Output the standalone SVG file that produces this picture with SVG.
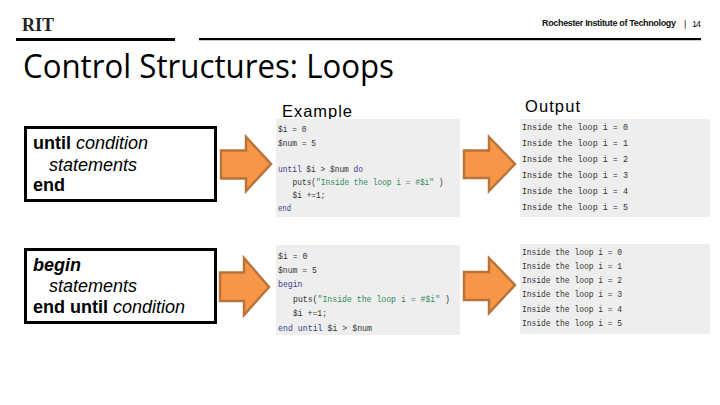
<svg xmlns="http://www.w3.org/2000/svg" width="720" height="405" viewBox="0 0 720 405">
<style>
.box{fill:#fff;stroke:#000;stroke-width:3}
.arrow{fill:#f79646;stroke:#b8743a;stroke-width:2.5}
.panel{fill:#eeeeee}
.t{font-family:"Liberation Sans",Arial,sans-serif;font-size:18px;fill:#000}
.b{font-weight:700}
.i{font-style:italic}
.c{font-family:"Liberation Mono","DejaVu Sans Mono",monospace;font-size:9.600px;fill:#333}
.g{fill:#2e8b57}
.p{fill:#3a3a8c}
</style>
<g id="header">
<text x="22" y="31" font-family="Liberation Serif,serif" font-weight="700" font-size="18" fill="#222" textLength="32">RIT</text>
<rect x="16" y="38" width="159" height="3" fill="#000"/>
<rect x="199" y="38" width="502" height="2.200" fill="#000"/>
<text x="542" y="26" font-family="Liberation Sans,sans-serif" font-weight="700" font-size="9" fill="#111" textLength="134">Rochester Institute of Technology</text>
<text x="684" y="27" font-family="Liberation Sans,sans-serif" font-size="9" fill="#111">|</text>
<text x="692" y="27" font-family="Liberation Sans,sans-serif" font-size="9" fill="#111" textLength="9">14</text>
</g>
<text id="title" x="23" y="78" font-family="'Open Sans',Lato,sans-serif" font-size="32" fill="#000" textLength="371" lengthAdjust="spacingAndGlyphs">Control Structures: Loops</text>
<text id="label-example" x="282" y="117" font-family="Liberation Sans,sans-serif" font-size="16.500" fill="#000" textLength="70">Example</text>
<text id="label-output" x="525" y="112" font-family="Liberation Sans,sans-serif" font-size="16.500" fill="#000" textLength="55">Output</text>
<g id="node-until">
<rect class="box" x="25.500" y="127.500" width="190" height="73"/>
<text class="t" x="33" y="149"><tspan class="b">until </tspan><tspan class="i">condition</tspan></text>
<text class="t i" x="49" y="170.500">statements</text>
<text class="t b" x="33" y="191">end</text>
</g>
<g id="node-begin">
<rect class="box" x="25.500" y="249.500" width="190" height="73"/>
<text class="t b i" x="33" y="270.500">begin</text>
<text class="t i" x="49" y="291.500">statements</text>
<text class="t" x="33" y="313"><tspan class="b">end until </tspan><tspan class="i">condition</tspan></text>
</g>
<g id="example-until">
<rect class="panel" x="276" y="119" width="184" height="98"/>
<text class="c" x="278" y="131.500" textLength="28.400" lengthAdjust="spacingAndGlyphs">$i = 0</text>
<text class="c" x="278" y="145.500" textLength="37.900" lengthAdjust="spacingAndGlyphs">$num = 5</text>
<text class="c" x="278" y="171.500" textLength="85" lengthAdjust="spacingAndGlyphs"><tspan class="p">until</tspan> $i &gt; $num <tspan class="p">do</tspan></text>
<text class="c" x="292.500" y="185" textLength="151" lengthAdjust="spacingAndGlyphs">puts(<tspan class="g">"Inside the loop i = #$i"</tspan> )</text>
<text class="c" x="292.500" y="198" textLength="33" lengthAdjust="spacingAndGlyphs">$i +=1;</text>
<text class="c" x="278" y="211" textLength="13" lengthAdjust="spacingAndGlyphs"><tspan class="p">end</tspan></text>
</g>
<g id="example-begin">
<rect class="panel" x="276" y="245" width="184" height="90"/>
<text class="c" x="278" y="259" textLength="29.400" lengthAdjust="spacingAndGlyphs">$i = 0</text>
<text class="c" x="278" y="273" textLength="39" lengthAdjust="spacingAndGlyphs">$num = 5</text>
<text class="c" x="278" y="287" textLength="24.500" lengthAdjust="spacingAndGlyphs"><tspan class="p">begin</tspan></text>
<text class="c" x="293" y="301.500" textLength="157" lengthAdjust="spacingAndGlyphs">puts(<tspan class="g">"Inside the loop i = #$i"</tspan> )</text>
<text class="c" x="293" y="316" textLength="34" lengthAdjust="spacingAndGlyphs">$i +=1;</text>
<text class="c" x="278" y="330.500" textLength="94" lengthAdjust="spacingAndGlyphs"><tspan class="p">end until</tspan> $i &gt; $num</text>
</g>
<g id="output-until">
<rect class="panel" x="520" y="119" width="190" height="98"/>
<text class="c" x="522" y="130" textLength="106" lengthAdjust="spacingAndGlyphs">Inside the loop i = 0</text>
<text class="c" x="522" y="146" textLength="106" lengthAdjust="spacingAndGlyphs">Inside the loop i = 1</text>
<text class="c" x="522" y="162" textLength="106" lengthAdjust="spacingAndGlyphs">Inside the loop i = 2</text>
<text class="c" x="522" y="178" textLength="106" lengthAdjust="spacingAndGlyphs">Inside the loop i = 3</text>
<text class="c" x="522" y="194" textLength="106" lengthAdjust="spacingAndGlyphs">Inside the loop i = 4</text>
<text class="c" x="522" y="210" textLength="106" lengthAdjust="spacingAndGlyphs">Inside the loop i = 5</text>
</g>
<g id="output-begin">
<rect class="panel" x="520" y="244" width="190" height="90"/>
<text class="c" x="522" y="255" textLength="100" lengthAdjust="spacingAndGlyphs">Inside the loop i = 0</text>
<text class="c" x="522" y="269" textLength="100" lengthAdjust="spacingAndGlyphs">Inside the loop i = 1</text>
<text class="c" x="522" y="283" textLength="100" lengthAdjust="spacingAndGlyphs">Inside the loop i = 2</text>
<text class="c" x="522" y="297" textLength="100" lengthAdjust="spacingAndGlyphs">Inside the loop i = 3</text>
<text class="c" x="522" y="312" textLength="100" lengthAdjust="spacingAndGlyphs">Inside the loop i = 4</text>
<text class="c" x="522" y="326" textLength="100" lengthAdjust="spacingAndGlyphs">Inside the loop i = 5</text>
</g>
<g id="connectors">
<polygon class="arrow" points="221,150.500 246,150.500 246,137 271,164 246,191 246,178.500 221,178.500"/>
<polygon class="arrow" points="220,272.500 244,272.500 244,258 269,287 244,315 244,301 220,301"/>
<polygon class="arrow" points="464,150.500 489,150.500 489,137 515,164 489,191 489,178 464,178"/>
<polygon class="arrow" points="464,272 489,272 489,258 515,285 489,313 489,300 464,300"/>
</g>
</svg>
